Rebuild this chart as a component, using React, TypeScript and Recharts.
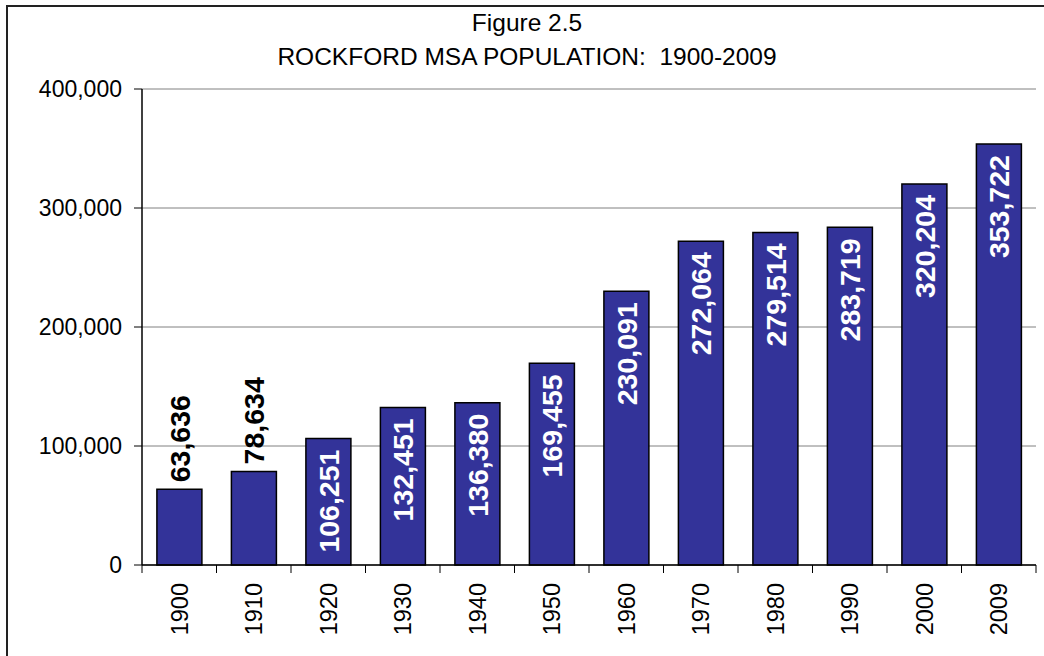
import { BarChart, Bar, XAxis, YAxis, CartesianGrid, LabelList } from 'recharts';

const years = ['1900', '1910', '1920', '1930', '1940', '1950', '1960', '1970', '1980', '1990', '2000', '2009'];
const population = [63636, 78634, 106251, 132451, 136380, 169455, 230091, 272064, 279514, 283719, 320204, 353722];
const yTicks = [0, 100000, 200000, 300000, 400000];
const titleLines = ['Figure 2.5', 'ROCKFORD MSA POPULATION:  1900-2009'];

const FONT = "'Liberation Sans', Arial, sans-serif";
const W = 1044;
const H = 656;
const LEFT = 142;
const RIGHT = 8;
const TOP = 89;
const X_AXIS_H = 91;

const data = years.map((year, i) => ({ year, pop: population[i] }));
const fmt = (v: number) => v.toLocaleString('en-US');

// category ticks sit between bars, like Excel does it
function YearTick(props: any) {
  const { x, y, payload, index } = props;
  const band = (W - LEFT - RIGHT) / years.length;
  const half = payload?.offset || band / 2;
  const ty = y + 18;
  return (
    <g>
      {index === 0 && <line x1={x - half} x2={x - half} y1={y} y2={y + 8} stroke="#000" />}
      <line x1={x + half} x2={x + half} y1={y} y2={y + 8} stroke="#000" />
      <text
        x={x}
        y={ty}
        dy="0.36em"
        transform={`rotate(-90 ${x} ${ty})`}
        textAnchor="end"
        fontSize={23.5}
        fontFamily={FONT}
        fill="#000"
      >
        {payload.value}
      </text>
    </g>
  );
}

function ValueLabel(props: any) {
  const { x, y, width, height, value } = props;
  const cx = x + width / 2;
  const inside = height > 115;
  const ty = inside ? y + 11 : y - 7;
  return (
    <text
      x={cx}
      y={ty}
      dy="0.36em"
      transform={`rotate(-90 ${cx} ${ty})`}
      textAnchor={inside ? 'end' : 'start'}
      fontSize={28.5}
      fontWeight="bold"
      fontFamily={FONT}
      fill={inside ? '#fff' : '#000'}
    >
      {fmt(value)}
    </text>
  );
}

export default function App() {
  return (
    <div style={{ position: 'relative', width: W, height: H, background: '#fff', fontFamily: FONT }}>
      <style>{'html,body{margin:0;overflow:hidden;background:#fff}'}</style>
      <div
        style={{
          position: 'absolute',
          left: 6,
          top: 5,
          width: W - 6,
          height: H - 5,
          borderLeft: '2px solid #222',
          borderTop: '2px solid #222',
          boxSizing: 'border-box',
        }}
      />
      <div
        style={{
          position: 'absolute',
          left: 0,
          top: 6,
          width: 1054,
          textAlign: 'center',
          fontSize: 24.5,
          lineHeight: '34px',
          whiteSpace: 'pre',
          color: '#000',
        }}
      >
        {titleLines.map((t) => (
          <div key={t}>{t}</div>
        ))}
      </div>
      <div style={{ position: 'absolute', left: 0, top: 0 }}>
        <BarChart
          width={W}
          height={H}
          data={data}
          margin={{ top: TOP, right: RIGHT, left: 0, bottom: 0 }}
          barCategoryGap="20%"
        >
          <CartesianGrid vertical={false} stroke="#808080" strokeWidth={1} />
          <XAxis
            dataKey="year"
            height={X_AXIS_H}
            axisLine={{ stroke: '#000', strokeWidth: 1.5 }}
            tickLine={false}
            tickSize={0}
            tickMargin={0}
            interval={0}
            tick={<YearTick />}
          />
          <YAxis
            width={LEFT}
            domain={[0, 400000]}
            ticks={yTicks}
            tickFormatter={fmt}
            axisLine={{ stroke: '#000', strokeWidth: 1.5 }}
            tickLine={{ stroke: '#000' }}
            tickSize={8}
            tickMargin={12}
            tick={{ fontSize: 23, fill: '#000', fontFamily: FONT }}
          />
          <YAxis
            yAxisId="frame"
            orientation="right"
            width={0}
            domain={[0, 400000]}
            tick={false}
            tickLine={false}
            axisLine={{ stroke: '#808080', strokeWidth: 1.5 }}
          />
          <Bar dataKey="pop" fill="#333399" stroke="#000" strokeWidth={1.5} isAnimationActive={false}>
            <LabelList dataKey="pop" content={<ValueLabel />} />
          </Bar>
        </BarChart>
      </div>
    </div>
  );
}
